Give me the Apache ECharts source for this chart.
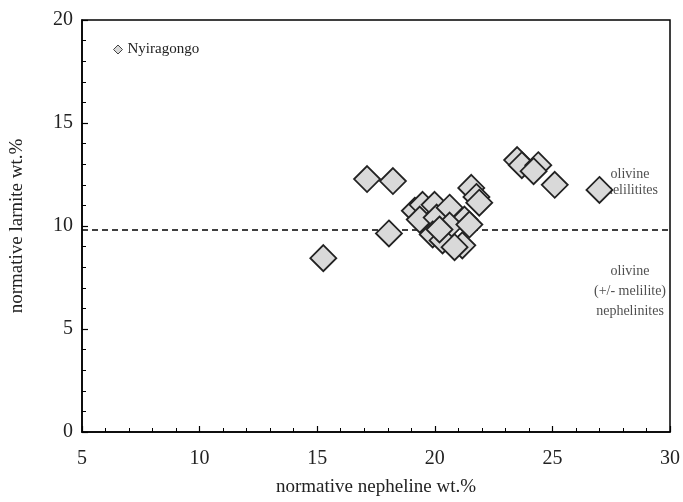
<!DOCTYPE html>
<html>
<head>
<meta charset="utf-8">
<script src="https://cdn.jsdelivr.net/npm/echarts@6/dist/echarts.min.js"></script>
<style>
  html, body { margin: 0; padding: 0; background: #fff; }
  #chart { width: 683px; height: 502px; }
</style>
</head>
<body>
<div id="chart"></div>
<script>
// Normative nepheline (x) vs normative larnite (y), Nyiragongo lavas
var nepheline = [15.26, 17.12, 18.22, 18.05,
  19.15, 19.48, 19.99, 19.36, 20.08, 20.63, 21.55, 21.77, 21.89, 21.26,
  19.91, 20.63, 20.33, 21.17, 21.47, 20.84, 20.20,
  23.5, 23.7, 24.4, 24.2, 25.1, 27.0];
var larnite = [8.44, 12.28, 12.18, 9.64,
  10.74, 11.03, 11.03, 10.31, 10.41, 10.89, 11.85, 11.41, 11.13, 10.31,
  9.59, 10.02, 9.30, 9.06, 10.07, 8.97, 9.83,
  13.2, 12.95, 12.95, 12.66, 12.0, 11.75];

// Boundary between olivine melilitites and olivine nephelinites
var boundaryX = [5, 30];
var boundaryY = [9.8, 9.8];

// Field labels
var fieldNames = ['olivine\nmelilitites', 'olivine\n(+/- melilite)\nnephelinites'];
var fieldX = [28.3, 28.3];
var fieldY = [12.1, 6.85];

var serif = '"Liberation Serif", "DejaVu Serif", serif';

var points = nepheline.map(function (x, i) { return [x, larnite[i]]; });
var boundary = boundaryX.map(function (x, i) { return [x, boundaryY[i]]; });
var fields = fieldNames.map(function (n, i) {
  return { value: [fieldX[i], fieldY[i]], name: n, label: { lineHeight: i === 0 ? 16 : 20 } };
});

var axisCommon = {
  axisLine: { onZero: false, lineStyle: { color: '#000', width: 1.5 } },
  axisTick: { inside: true, length: 6, lineStyle: { color: '#000', width: 1.2 } },
  minorTick: { show: true, splitNumber: 5, length: 4, lineStyle: { color: '#000', width: 1 } },
  splitLine: { show: false },
  axisLabel: { color: '#222', fontFamily: serif, fontSize: 20 },
  nameTextStyle: { color: '#222', fontFamily: serif, fontSize: 19 }
};

var chart = echarts.init(document.getElementById('chart'), null, { renderer: 'canvas' });
chart.setOption({
  animation: false,
  backgroundColor: '#fff',
  grid: { left: 80, right: 11, top: 20, bottom: 65, show: true, borderColor: '#000', borderWidth: 1.5 },
  legend: {
    data: ['Nyiragongo'],
    left: 108, top: 37,
    icon: 'diamond',
    itemWidth: 9, itemHeight: 9, itemGap: 4,
    itemStyle: { color: '#d9d9d9', borderColor: '#444', borderWidth: 1 },
    textStyle: { color: '#222', fontFamily: serif, fontSize: 15 }
  },
  xAxis: Object.assign({}, axisCommon, {
    type: 'value', min: 5, max: 30, interval: 5,
    name: 'normative nepheline wt.%', nameLocation: 'middle', nameGap: 46,
    axisLabel: Object.assign({}, axisCommon.axisLabel, { margin: 17 })
  }),
  yAxis: Object.assign({}, axisCommon, {
    type: 'value', min: 0, max: 20, interval: 5,
    name: 'normative larnite wt.%', nameLocation: 'middle', nameGap: 55, nameRotate: 90,
    axisLabel: Object.assign({}, axisCommon.axisLabel, { margin: 9 })
  }),
  series: [
    {
      type: 'line', data: boundary, symbol: 'none', silent: true,
      lineStyle: { color: '#000', width: 1.5, type: [6, 4] }, z: 1
    },
    {
      type: 'scatter', data: fields, symbolSize: 0, silent: true,
      label: {
        show: true, position: 'inside', formatter: function (p) { return p.name; },
        color: '#222', fontFamily: serif, fontSize: 14, align: 'center'
      }, z: 2
    },
    {
      name: 'Nyiragongo', type: 'scatter', data: points,
      symbol: 'diamond', symbolSize: 26,
      itemStyle: { color: '#d9d9d9', borderColor: '#222', borderWidth: 1.8, opacity: 1 },
      z: 3
    }
  ]
});
</script>
</body>
</html>
